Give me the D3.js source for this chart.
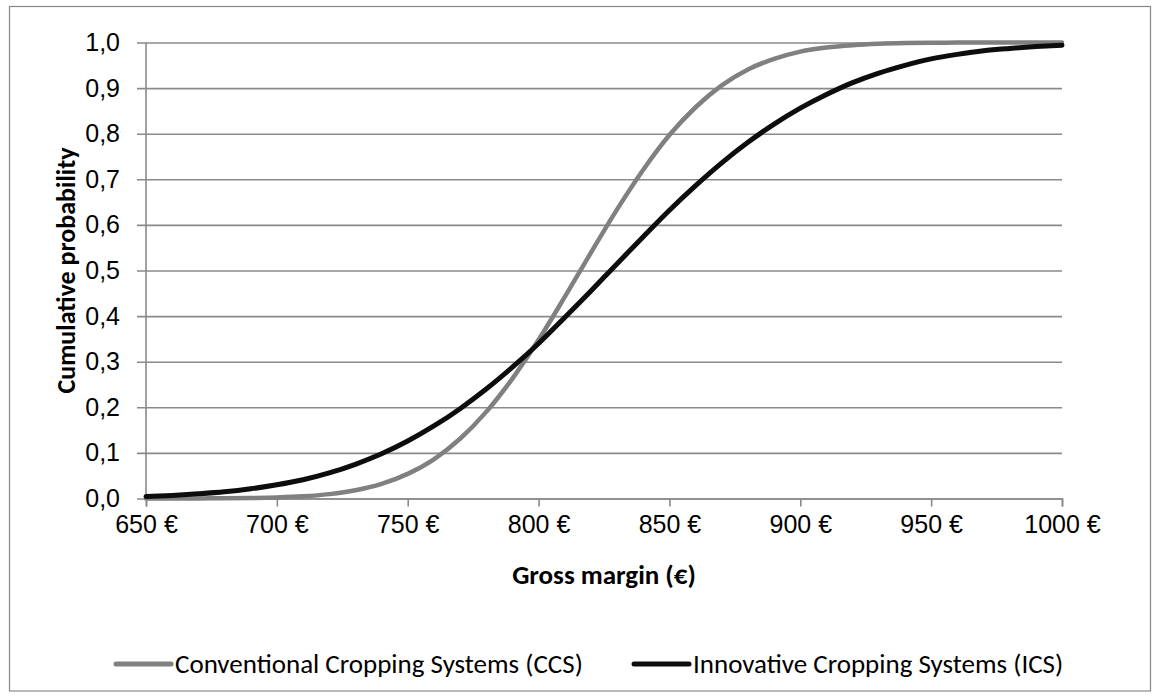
<!DOCTYPE html>
<html>
<head>
<meta charset="utf-8">
<script src="https://cdn.jsdelivr.net/npm/d3@7"></script>
<style>
  body { margin: 0; background: #fff; }
  svg { display: block; font-family: Carlito, Calibri, Lato, sans-serif; }
</style>
</head>
<body>
<div id="cdf-chart"></div>
<script>
// gross margin (€) at which both curves are read
var margins = [650, 660, 670, 680, 690, 700, 710, 720, 730, 740, 750, 760, 770, 780, 790,
  800, 810, 820, 830, 840, 850, 860, 870, 880, 890, 900, 910, 920, 930, 940, 950, 960, 970,
  980, 990, 1000];

// cumulative probability, conventional cropping systems
var ccsValues = [0.000, 0.0001, 0.0002, 0.0005, 0.0011, 0.0023, 0.0048, 0.0096, 0.018, 0.032,
  0.054, 0.086, 0.131, 0.190, 0.263, 0.348, 0.442, 0.539, 0.634, 0.721, 0.797, 0.858, 0.906,
  0.941, 0.964, 0.980, 0.989, 0.994, 0.997, 0.9987, 0.9995, 0.9998, 0.9999, 1.0, 1.0, 1.0];

// cumulative probability, innovative cropping systems
var icsValues = [0.0044, 0.0068, 0.0102, 0.0146, 0.0212, 0.030, 0.041, 0.056, 0.075, 0.098,
  0.126, 0.159, 0.197, 0.240, 0.288, 0.340, 0.397, 0.455, 0.515, 0.574, 0.632, 0.686, 0.736,
  0.781, 0.821, 0.856, 0.886, 0.912, 0.933, 0.950, 0.964, 0.974, 0.982, 0.987, 0.991, 0.994];

var xTicks = [650, 700, 750, 800, 850, 900, 950, 1000];
var yTicks = [0, 0.1, 0.2, 0.3, 0.4, 0.5, 0.6, 0.7, 0.8, 0.9, 1.0];

var seriesNames = ["Conventional Cropping Systems (CCS)", "Innovative Cropping Systems (ICS)"];
var seriesColors = ["#808080", "#0d0d0d"];

var width = 1157,
    height = 699;
var margin = {top: 42.5, right: 95, bottom: 200.5, left: 146};
var plotW = width - margin.left - margin.right;
var plotH = height - margin.top - margin.bottom;

var svg = d3.select("#cdf-chart")
  .append("svg")
    .attr("width", width)
    .attr("height", height);

svg.append("rect")
    .attr("x", 9.5)
    .attr("y", 6.5)
    .attr("width", 1141)
    .attr("height", 684.5)
    .attr("fill", "#fff")
    .attr("stroke", "#898989")
    .attr("stroke-width", 1.2);

var g = svg.append("g").attr("transform", "translate(" + margin.left + "," + margin.top + ")");

var x = d3.scaleLinear().domain([650, 1000]).range([0, plotW]),
    y = d3.scaleLinear().domain([0, 1]).range([plotH, 0]);

var comma = function(d) { return d3.format(".1f")(d).replace(".", ","); };

// horizontal gridlines with the y axis ticks
g.append("g")
    .attr("class", "axis axis--y")
    .call(d3.axisLeft(y).tickValues(yTicks).tickSize(-plotW - 9).tickFormat(comma))
    .call(function(s) {
      s.select(".domain").remove();
      s.selectAll(".tick line").attr("x1", -9).attr("x2", plotW)
        .attr("stroke", "#8a8a8a").attr("stroke-width", 1.6);
      s.selectAll(".tick text").attr("x", -26).style("font-size", "25px").attr("fill", "#000");
    });

g.append("line")
    .attr("x1", 0).attr("x2", 0)
    .attr("y1", 0).attr("y2", plotH)
    .attr("stroke", "#8a8a8a")
    .attr("stroke-width", 1.6);

g.append("g")
    .attr("class", "axis axis--x")
    .attr("transform", "translate(0," + plotH + ")")
    .call(d3.axisBottom(x).tickValues(xTicks).tickSize(8).tickPadding(9)
      .tickFormat(function(d) { return d + " €"; }))
    .call(function(s) {
      s.select(".domain").attr("stroke", "#8a8a8a").attr("stroke-width", 1.6);
      s.selectAll(".tick line").attr("stroke", "#8a8a8a").attr("stroke-width", 1.6);
      s.selectAll(".tick text").style("font-size", "25px").attr("fill", "#000");
    });

g.append("text")
    .attr("x", plotW / 2)
    .attr("y", plotH + 85)
    .attr("text-anchor", "middle")
    .style("font-size", "27px")
    .style("font-weight", "bold")
    .text("Gross margin (€)");

g.append("text")
    .attr("transform", "rotate(-90)")
    .attr("x", -plotH / 2)
    .attr("y", -71)
    .attr("text-anchor", "middle")
    .style("font-size", "26px")
    .style("font-weight", "bold")
    .text("Cumulative probability");

var line = d3.line()
    .x(function(d) { return x(d[0]); })
    .y(function(d) { return y(d[1]); })
    .curve(d3.curveMonotoneX);

var series = [ccsValues, icsValues];
series.forEach(function(vals, i) {
  g.append("path")
    .datum(margins.map(function(m, j) { return [m, vals[j]]; }))
    .attr("fill", "none")
    .attr("stroke", seriesColors[i])
    .attr("stroke-width", i === 0 ? 4.5 : 5)
    .attr("stroke-linecap", "round")
    .attr("d", line);
});

// legend below the plot
var legendX = [116, 634];
var legend = svg.selectAll(".legend")
  .data(seriesNames)
  .enter().append("g")
    .attr("class", "legend")
    .attr("transform", function(d, i) { return "translate(" + legendX[i] + ",664)"; });

legend.append("line")
    .attr("x1", 0).attr("x2", 55)
    .attr("stroke", function(d, i) { return seriesColors[i]; })
    .attr("stroke-width", 5)
    .attr("stroke-linecap", "round");

legend.append("text")
    .attr("x", 59)
    .attr("dy", "0.35em")
    .style("font-size", "27px")
    .text(function(d) { return d; });
</script>
</body>
</html>
